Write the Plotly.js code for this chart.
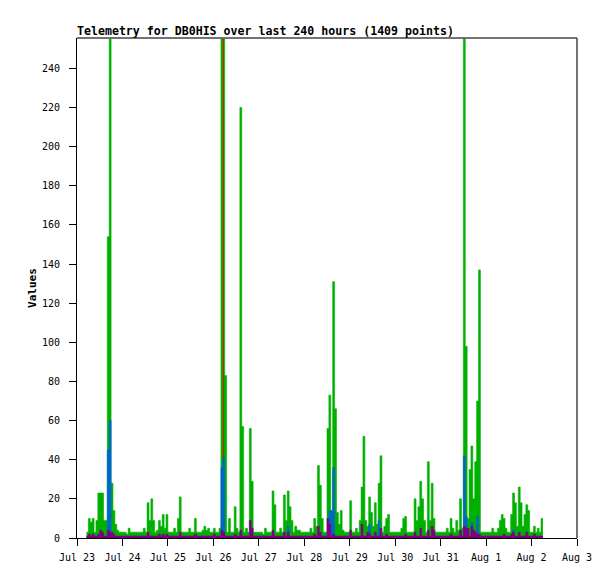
<!DOCTYPE html>
<html>
<head>
<meta charset="utf-8">
<script src="https://cdn.plot.ly/plotly-3.0.1.min.js"></script>
<style>
  html, body { margin: 0; padding: 0; background: #fff; }
  #chart { width: 615px; height: 579px; }
</style>
</head>
<body>
<div id="chart"></div>
<script>
// hourly telemetry, first sample Jul 23 05:00, one value per hour
const FIRST_SAMPLE = '2023-07-23 05:00';

const CH_GREEN = [
  3, 10, 8, 10, 3, 9, 23, 23, 23, 9,
  9, 154, 255, 28, 14, 7, 4, 3, 3, 3,
  3, 2, 5, 3, 3, 3, 3, 3, 3, 3,
  5, 3, 18, 9, 20, 9, 3, 4, 9, 6,
  12, 5, 12, 3, 3, 3, 5, 3, 10, 21,
  3, 3, 3, 3, 5, 3, 3, 10, 3, 3,
  3, 4, 6, 4, 5, 3, 3, 5, 3, 3,
  5, 255, 255, 83, 3, 10, 3, 3, 16, 5,
  3, 220, 57, 3, 5, 3, 56, 29, 3, 3,
  3, 3, 3, 2, 5, 3, 3, 3, 24, 17,
  3, 3, 5, 3, 22, 9, 24, 16, 9, 3,
  6, 4, 4, 3, 3, 3, 3, 3, 5, 3,
  10, 6, 37, 27, 10, 3, 3, 56, 73, 12,
  131, 66, 13, 7, 14, 4, 3, 3, 3, 19,
  3, 3, 5, 3, 9, 26, 52, 9, 6, 21,
  13, 6, 18, 7, 28, 42, 3, 6, 10, 12,
  3, 3, 3, 3, 3, 3, 5, 10, 11, 3,
  3, 3, 3, 20, 9, 16, 29, 20, 9, 3,
  39, 9, 28, 10, 3, 3, 3, 3, 3, 3,
  5, 3, 10, 5, 3, 9, 4, 20, 5, 255,
  98, 10, 35, 47, 20, 39, 70, 137, 3, 3,
  3, 3, 3, 3, 5, 3, 3, 5, 9, 12,
  10, 5, 3, 3, 12, 23, 18, 6, 26, 18,
  6, 12, 17, 14, 3, 3, 6, 3, 5, 3,
  10,
];

const CH_BLUE = [
  0, 0, 0, 0, 0, 0, 0, 0, 0, 0,
  0, 45, 60, 0, 0, 0, 0, 0, 0, 0,
  0, 0, 0, 0, 0, 0, 0, 0, 0, 0,
  0, 0, 0, 0, 0, 0, 0, 0, 0, 0,
  0, 0, 0, 0, 0, 0, 0, 0, 0, 0,
  0, 0, 0, 0, 0, 0, 0, 0, 0, 0,
  0, 0, 0, 0, 0, 0, 0, 0, 0, 0,
  0, 36, 41, 0, 0, 0, 0, 0, 0, 0,
  0, 0, 0, 0, 0, 0, 0, 0, 0, 0,
  0, 0, 0, 0, 0, 0, 0, 0, 0, 0,
  0, 0, 0, 0, 0, 0, 6, 0, 0, 0,
  0, 0, 0, 0, 0, 0, 0, 0, 0, 0,
  0, 0, 0, 0, 0, 0, 0, 0, 14, 14,
  36, 0, 0, 0, 0, 0, 0, 0, 0, 0,
  0, 0, 0, 0, 0, 0, 0, 0, 0, 7,
  0, 0, 0, 0, 9, 0, 0, 0, 0, 0,
  0, 0, 0, 0, 0, 0, 0, 0, 0, 0,
  0, 0, 0, 0, 0, 0, 0, 0, 0, 0,
  0, 0, 0, 0, 0, 0, 0, 0, 0, 0,
  0, 0, 0, 0, 0, 0, 0, 0, 0, 42,
  11, 0, 0, 8, 0, 0, 11, 0, 0, 0,
  0, 0, 0, 0, 0, 0, 0, 0, 0, 0,
  0, 0, 0, 0, 0, 4, 0, 0, 0, 0,
  0, 0, 0, 0, 0, 0, 0, 0, 0, 0,
  0,
];

const CH_PURPLE = [
  1, 2, 1, 2, 1, 1, 2, 4, 3, 1,
  1, 4, 3, 3, 2, 1, 1, 1, 1, 1,
  1, 1, 1, 1, 1, 1, 1, 1, 1, 1,
  1, 1, 3, 1, 1, 1, 1, 1, 2, 1,
  2, 1, 2, 1, 1, 1, 1, 1, 1, 3,
  1, 1, 1, 1, 1, 1, 1, 2, 1, 1,
  1, 1, 1, 1, 1, 1, 1, 2, 1, 1,
  1, 4, 3, 1, 1, 1, 1, 1, 2, 1,
  1, 4, 1, 1, 1, 1, 9, 5, 1, 1,
  1, 1, 1, 1, 1, 1, 1, 1, 4, 1,
  1, 1, 1, 1, 3, 1, 3, 1, 1, 1,
  1, 1, 1, 1, 1, 1, 1, 1, 1, 1,
  2, 1, 6, 3, 1, 1, 1, 10, 7, 1,
  2, 1, 1, 1, 1, 1, 1, 1, 1, 4,
  1, 1, 1, 1, 1, 7, 1, 1, 3, 2,
  1, 1, 3, 1, 1, 5, 1, 1, 2, 1,
  1, 1, 1, 1, 1, 1, 1, 1, 2, 1,
  1, 1, 1, 3, 1, 1, 5, 1, 1, 1,
  4, 1, 6, 4, 1, 1, 1, 1, 1, 1,
  1, 1, 2, 1, 1, 1, 1, 4, 1, 6,
  5, 5, 1, 6, 4, 3, 2, 2, 1, 1,
  1, 1, 1, 1, 1, 1, 1, 1, 1, 1,
  2, 1, 1, 1, 2, 3, 1, 1, 3, 1,
  1, 1, 3, 1, 1, 1, 2, 1, 1, 1,
  1,
];

// the few single readings of the red channel
const RED_TIMES = ['2023-07-26 05:20', '2023-07-31 16:50'];
const RED_VALUES = [255, 2];

const DAY_TICKS = ['2023-07-23', '2023-07-24', '2023-07-25', '2023-07-26', '2023-07-27', '2023-07-28',
  '2023-07-29', '2023-07-30', '2023-07-31', '2023-08-01', '2023-08-02', '2023-08-03'];
const DAY_LABELS = ['Jul 23', 'Jul 24', 'Jul 25', 'Jul 26', 'Jul 27', 'Jul 28',
  'Jul 29', 'Jul 30', 'Jul 31', 'Aug 1', 'Aug 2', 'Aug 3'];

const MONO = 'DejaVu Sans Mono, Liberation Mono, monospace';
const HOUR = 3600000;

function fmt(ms) {
  return new Date(ms).toISOString().slice(0, 16).replace('T', ' ');
}

// step area: each value holds for one hour, close the last step
function stepTrace(vals, color) {
  const t0 = Date.parse(FIRST_SAMPLE.replace(' ', 'T') + ':00Z');
  const x = vals.map((_, i) => fmt(t0 + i * HOUR));
  x.push(fmt(t0 + vals.length * HOUR));
  return {
    x, y: [...vals, vals[vals.length - 1]],
    type: 'scatter', mode: 'lines',
    line: { shape: 'hv', width: 0.6, color },
    fill: 'tozeroy', fillcolor: color,
    hoverinfo: 'skip',
  };
}

function redTrace() {
  const x = [], y = [];
  RED_TIMES.forEach((t, i) => { x.push(t, t, null); y.push(0, RED_VALUES[i], null); });
  return { x, y, type: 'scatter', mode: 'lines', line: { color: '#ff0000', width: 1 }, hoverinfo: 'skip' };
}

const traces = [
  stepTrace(CH_GREEN, '#00b000'),
  redTrace(),
  stepTrace(CH_BLUE, '#0066cc'),
  stepTrace(CH_PURPLE, '#800080'),
];

const layout = {
  width: 615, height: 579,
  margin: { l: 77, r: 38, t: 38, b: 41 },
  paper_bgcolor: '#fff', plot_bgcolor: '#fff',
  showlegend: false,
  font: { family: MONO, size: 10, color: '#000' },
  title: {
    text: 'Telemetry for DB0HIS over last 240 hours (1409 points)',
    font: { family: MONO, size: 11.6, weight: 'bold', color: '#000' },
    xref: 'paper', x: 0, xanchor: 'left',
    yref: 'container', y: 1 - 31 / 579, yanchor: 'middle',
  },
  xaxis: {
    type: 'date',
    range: ['2023-07-23 00:00', '2023-08-03 00:00'],
    tickmode: 'array', tickvals: DAY_TICKS, ticktext: DAY_LABELS,
    ticks: 'outside', ticklen: 7, tickcolor: '#000',
    ticklabelstandoff: 3,
    showline: true, linecolor: '#000', linewidth: 1,
    showgrid: false, zeroline: false,
    tickfont: { family: MONO, size: 10, color: '#000' },
  },
  yaxis: {
    range: [0, 255.5],
    tick0: 0, dtick: 20,
    ticks: 'outside', ticklen: 7, tickcolor: '#000',
    ticklabelstandoff: 7,
    showline: true, linecolor: '#000', linewidth: 1,
    showgrid: false, zeroline: false,
    tickfont: { family: MONO, size: 10, color: '#000' },
    title: { text: 'Values', font: { family: MONO, size: 11, weight: 'bold', color: '#000' }, standoff: 3 },
  },
  shapes: [
    { type: 'line', xref: 'paper', yref: 'paper', x0: 0, x1: 1, y0: 1, y1: 1, line: { color: '#444', width: 1.5 } },
    { type: 'line', xref: 'paper', yref: 'paper', x0: 1, x1: 1, y0: 0, y1: 1, line: { color: '#444', width: 1.5 } },
  ],
};

Plotly.newPlot('chart', traces, layout, { displayModeBar: false, staticPlot: true });
</script>
</body>
</html>
